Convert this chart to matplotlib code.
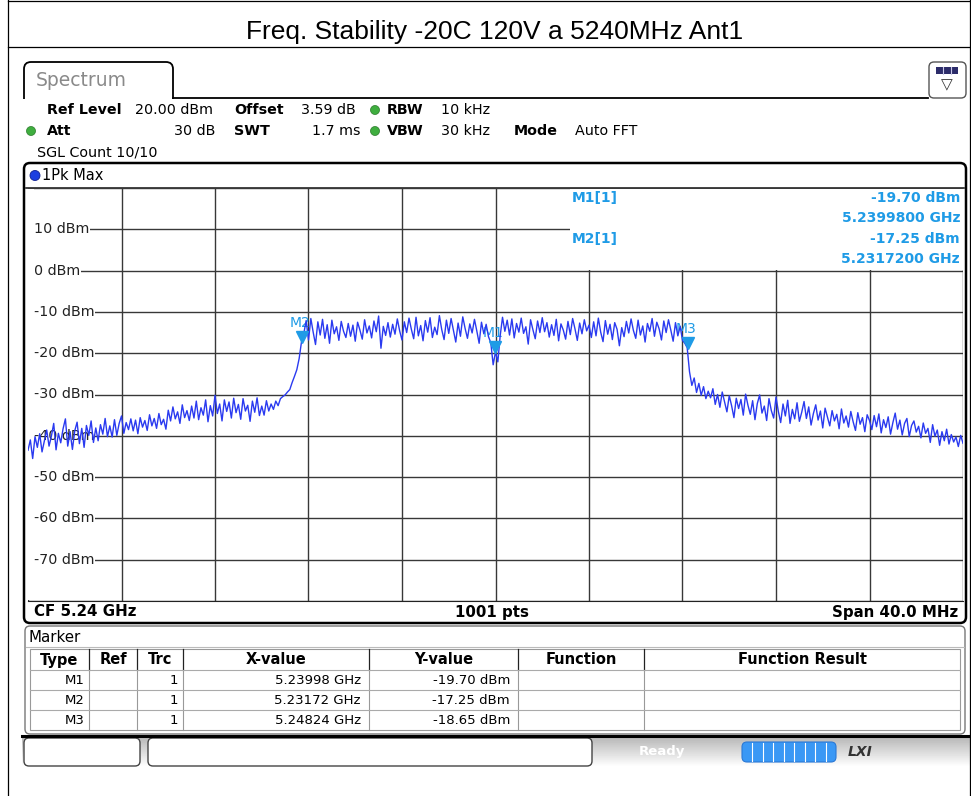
import numpy as np
import matplotlib
matplotlib.use('Agg')
import matplotlib.pyplot as plt
from matplotlib.patches import FancyBboxPatch, Rectangle, Circle
from matplotlib.transforms import offset_copy, blended_transform_factory

W, H = 971, 796

title = 'Freq. Stability -20C 120V a 5240MHz Ant1'

# trace levels in dBm, 0.1 MHz steps from 5.220 GHz to 5.260 GHz
left_skirt = [
    -43.5, -41.0, -45.5, -40.2, -42.8, -39.5, -43.9, -41.2, -38.6, -42.5,
    -40.1, -37.0, -43.4, -39.4, -41.7, -38.3, -35.9, -42.5, -39.0, -43.3,
    -38.8, -36.7, -41.9, -38.2, -42.8, -37.5, -39.9, -36.4, -41.6, -38.1,
    -41.2, -37.3, -39.6, -35.8, -40.2, -37.6, -40.3, -36.1, -39.9, -37.0,
    -35.2, -39.4, -36.8, -38.5, -35.9, -38.8, -36.2, -39.5, -35.6, -37.9,
    -36.3, -38.7, -34.9, -37.6, -35.8, -38.2, -34.6, -37.3, -36.0, -38.4,
    -33.8, -36.4, -33.0, -35.9, -34.2, -37.0, -32.5, -35.6, -33.9, -36.3,
    -32.8, -35.7, -31.6, -36.1, -33.2, -35.0, -31.3, -36.6, -32.7, -35.2,
    -30.2, -34.6, -32.3, -36.4, -31.3, -34.1, -31.8, -35.7, -30.9, -34.4,
    -32.4, -36.0, -31.0, -34.0, -32.6, -36.5, -31.6, -34.3, -30.8, -35.1,
    -32.8, -35.0, -31.5, -34.0, -32.3, -33.6, -31.6, -32.7, -31.0, -30.5,
    -30.1, -29.4, -28.8, -27.1, -25.6, -24.0, -21.3, -17.25,
]
in_band = [
    -15.2, -12.1, -16.8, -11.6, -14.9, -17.9, -12.4, -15.6, -11.8, -16.4,
    -13.1, -17.6, -12.0, -15.3, -13.6, -16.9, -12.3, -14.7, -16.2, -12.8,
    -15.9, -13.2, -17.1, -12.5, -14.4, -16.6, -11.9, -15.1, -13.4, -16.3,
    -12.2, -14.8, -11.0, -18.8, -13.5, -15.7, -12.6, -16.1, -13.0, -15.4,
    -11.7, -14.6, -16.8, -12.4, -15.0, -11.5, -14.2, -16.5, -11.3, -15.8,
    -13.3, -17.0, -12.1, -14.9, -11.4, -16.2, -13.7, -15.5, -10.9, -14.3,
    -16.7, -12.0, -15.2, -11.6, -14.5, -17.3, -12.7, -15.9, -11.2, -14.0,
    -16.4, -12.9, -15.1, -11.8, -14.6, -17.6, -12.5, -15.3, -13.0, -16.0,
    -17.5, -22.8, -19.7, -22.1, -15.8,
    -11.3, -14.7, -12.0, -15.6, -11.7, -16.3, -12.8, -14.9, -11.5, -15.2,
    -13.6, -17.8, -11.9, -14.3, -16.5, -12.2, -15.0, -11.4, -14.8, -12.6,
    -16.1, -13.1, -15.7, -11.8, -17.0, -12.9, -14.4, -16.6, -12.3, -15.5,
    -11.6, -14.1, -16.9, -12.7, -15.3, -11.9, -14.6, -13.2, -16.2, -12.4,
    -15.8, -11.5, -14.9, -17.2, -12.1, -15.4, -13.0, -16.7, -12.6, -14.2,
    -18.2, -13.8, -16.0, -12.3, -15.1, -11.7, -14.5, -16.4, -12.0, -15.6,
    -13.4, -17.3, -12.8, -14.7, -11.6, -15.9, -12.5, -14.1, -16.8, -12.2,
    -15.0, -11.9, -14.4, -17.1, -12.6, -15.8, -13.5, -16.9, -17.6, -18.65,
]
right_skirt = [
    -24.5, -27.8, -26.0, -29.5, -27.3, -30.2, -28.1, -31.0, -29.2, -30.8,
    -28.6, -32.4, -30.0, -33.1, -29.4, -31.8, -34.2, -30.3, -32.7, -35.6,
    -30.9, -33.4, -31.2, -35.0, -29.9, -32.6, -34.8, -31.5, -36.1, -32.2,
    -30.1, -34.5, -32.8, -36.3, -31.0, -33.9, -35.7, -30.6, -34.1, -36.8,
    -32.3, -35.2, -31.4, -37.0, -33.6, -35.9, -32.0, -36.5, -34.3, -31.7,
    -35.8, -33.0, -37.4, -34.6, -32.5, -36.2, -34.0, -38.1, -33.3, -35.5,
    -37.6, -33.9, -36.4, -34.8, -38.3, -33.5, -36.9, -35.2, -37.9, -34.1,
    -36.6, -38.7, -34.4, -37.2, -35.6, -39.0, -34.9, -36.3, -38.5, -35.1,
    -37.8, -34.7, -39.3, -36.1, -38.0, -35.4, -39.6, -36.8, -34.5, -38.4,
    -36.2, -39.8, -37.0, -35.8, -40.2, -37.5, -36.4, -39.1, -37.7, -40.5,
    -36.9, -39.4, -38.2, -41.6, -37.3, -40.1, -38.6, -42.3, -39.0, -41.2,
    -38.4, -42.0, -39.7, -41.5, -40.3, -42.6, -39.9, -41.8,
]
trace = np.array(left_skirt + in_band + right_skirt)
freq = np.linspace(5.22, 5.26, len(trace))

marker_names = ['M1', 'M2', 'M3']
marker_freq = [5.23998, 5.23172, 5.24824]
marker_level = [-19.70, -17.25, -18.65]

level_ticks = [10, 0, -10, -20, -30, -40, -50, -60, -70]

table_cols = ['Type', 'Ref', 'Trc', 'X-value', 'Y-value', 'Function', 'Function Result']

BLUE = '#2a3af0'
MK = '#1f9be6'


def box(x0, y0, x1, y1):
    return [x0 / W, 1 - y1 / H, (x1 - x0) / W, (y1 - y0) / H]


fig = plt.figure(figsize=(W / 100, H / 100), dpi=100)
ov = fig.add_axes([0, 0, 1, 1])
ov.axis('off')

# outer report table
ov.plot([8, 8], [0, H], color='black', lw=0.9)
ov.plot([969.5, 969.5], [0, H], color='black', lw=0.9)
ov.plot([8, W], [1, 1], color='black', lw=0.9)
ov.plot([8, W], [47, 47], color='black', lw=0.9)
ov.text(495, 32, title, ha='center', va='center', fontsize=19,
        family='Liberation Sans', color='black')

# spectrum tab
ov.add_patch(FancyBboxPatch((24, 62), 149, 50, boxstyle='round,pad=0,rounding_size=7',
                            fc='white', ec='black', lw=1.3))
ov.add_patch(Rectangle((20, 99), 157, 60, fc='white', ec='none'))
ov.plot([173, 928], [98, 98], color='black', lw=1.3)
ov.text(36, 81, 'Spectrum', ha='left', va='center', fontsize=13.5, color='#8a8a8a')
ov.add_patch(FancyBboxPatch((929, 62), 37, 36, boxstyle='round,pad=0,rounding_size=5',
                            fc='white', ec='#555555', lw=1.0))
ov.add_patch(Rectangle((936, 67), 22, 7, fc='#2c2c6a', ec='none'))
for xs in [943.3, 950.6]:
    ov.plot([xs, xs], [67, 74], color='#c8c8e8', lw=0.8)
ov.text(947, 85, '\u25bd', ha='center', va='center', fontsize=11, color='#333333')

# settings
fs = 10.3
ov.text(47, 110, 'Ref Level', fontsize=fs, weight='bold', va='center')
ov.text(135, 110, '20.00 dBm', fontsize=fs, va='center')
ov.text(234, 110, 'Offset', fontsize=fs, weight='bold', va='center')
ov.text(301, 110, '3.59 dB', fontsize=fs, va='center')
ov.text(387, 110, 'RBW', fontsize=fs, weight='bold', va='center')
ov.text(441, 110, '10 kHz', fontsize=fs, va='center')
ov.text(47, 131, 'Att', fontsize=fs, weight='bold', va='center')
ov.text(215, 131, '30 dB', fontsize=fs, va='center', ha='right')
ov.text(234, 131, 'SWT', fontsize=fs, weight='bold', va='center')
ov.text(361, 131, '1.7 ms', fontsize=fs, va='center', ha='right')
ov.text(387, 131, 'VBW', fontsize=fs, weight='bold', va='center')
ov.text(441, 131, '30 kHz', fontsize=fs, va='center')
ov.text(514, 131, 'Mode', fontsize=fs, weight='bold', va='center')
ov.text(575, 131, 'Auto FFT', fontsize=fs, va='center')
ov.text(37, 152, 'SGL Count 10/10', fontsize=fs, va='center')
for cx, cy in [(375, 110), (31, 131), (375, 131)]:
    ov.add_patch(Circle((cx, cy), 4.5, fc='#3fae3f', ec='#2a7a2a', lw=0.5))

# diagram frame
ov.add_patch(FancyBboxPatch((24, 163), 942, 460, boxstyle='round,pad=0,rounding_size=6',
                            fc='white', ec='black', lw=1.8))
ov.add_patch(Circle((35, 175.5), 5, fc='#1d3fe0', ec='#102090', lw=0.6))
ov.text(42, 175.5, '1Pk Max', fontsize=10.5, va='center')
ov.plot([26, 964], [187.5, 187.5], color='#222222', lw=1.2)
ov.text(34, 612, 'CF 5.24 GHz', fontsize=10.8, weight='bold', va='center')
ov.text(492, 612, '1001 pts', fontsize=10.8, weight='bold', va='center', ha='center')
ov.text(958, 612, 'Span 40.0 MHz', fontsize=10.8, weight='bold', va='center', ha='right')

# marker table
ov.add_patch(FancyBboxPatch((25, 626), 940, 108, boxstyle='round,pad=0,rounding_size=5',
                            fc='white', ec='#777777', lw=1.0))
ov.text(28, 637, 'Marker', fontsize=10.8, va='center')
ov.plot([26, 964], [647, 647], color='#bbbbbb', lw=0.8)
col_edges = [30, 89, 137, 183, 369, 518, 644, 960]
row_edges = [649, 670, 690, 710, 730]
ov.add_patch(Rectangle((30, 649), 930, 81, fc='none', ec='#999999', lw=0.8))
for xe in col_edges[1:-1]:
    ov.plot([xe, xe], [649, 670], color='#222222', lw=0.9)
    ov.plot([xe, xe], [670, 730], color='#999999', lw=0.8)
for ye in row_edges[1:-1]:
    ov.plot([30, 960], [ye, ye], color='#aaaaaa', lw=0.8)
for i, name in enumerate(table_cols):
    ov.text((col_edges[i] + col_edges[i + 1]) / 2, 660, name, fontsize=10.5,
            weight='bold', ha='center', va='center')
for r, (n, f, l) in enumerate(zip(marker_names, marker_freq, marker_level)):
    yc = (row_edges[r + 1] + row_edges[r + 2]) / 2
    ov.text(col_edges[1] - 4, yc, n, fontsize=9.5, ha='right', va='center')
    ov.text(col_edges[3] - 5, yc, '1', fontsize=9.5, ha='right', va='center')
    ov.text(col_edges[4] - 8, yc, f'{f:.5f} GHz', fontsize=9.5, ha='right', va='center')
    ov.text(col_edges[5] - 8, yc, f'{l:.2f} dBm', fontsize=9.5, ha='right', va='center')

# status bar
ov.plot([22, W], [735.5, 735.5], color='black', lw=2.2)
grad = np.linspace(0.72, 1.0, 30)[:, None] * np.ones((30, 2))
ov.imshow(grad, extent=(22, W, 767, 737), cmap='gray', vmin=0, vmax=1,
          aspect='auto', zorder=0.5)
ov.add_patch(FancyBboxPatch((24, 738), 116, 28, boxstyle='round,pad=0,rounding_size=5',
                            fc='white', ec='#444444', lw=1.0, zorder=1))
ov.add_patch(FancyBboxPatch((148, 738), 444, 28, boxstyle='round,pad=0,rounding_size=5',
                            fc='white', ec='#444444', lw=1.0, zorder=1))
ov.text(662, 752, 'Ready', fontsize=9.5, weight='bold', color='white', ha='center',
        va='center', zorder=2)
ov.add_patch(FancyBboxPatch((742, 742), 94, 20, boxstyle='round,pad=0,rounding_size=5',
                            fc='#3a98f5', ec='#2a78d5', lw=0.8, zorder=2))
for k in range(1, 9):
    xs = 742 + k * 94 / 9
    ov.plot([xs, xs], [743, 761], color='white', lw=0.8, zorder=3)
ov.text(860, 752, 'LXI', fontsize=10, weight='bold', style='italic', color='#333333',
        ha='center', va='center', zorder=2)
ov.set_xlim(0, W)
ov.set_ylim(H, 0)

# spectrum diagram
ax = fig.add_axes(box(28, 188, 963, 601))
ax.set_xlim(5.22, 5.26)
ax.set_ylim(-80, 20)
ax.set_xticks(np.linspace(5.22, 5.26, 11))
ax.set_yticks(np.arange(-80, 21, 10))
ax.tick_params(length=0, labelbottom=False, labelleft=False)
ax.grid(True, color='#383838', lw=1.0)
ax.set_axisbelow(True)
for s in ax.spines.values():
    s.set_visible(False)
ax.spines['bottom'].set_visible(True)
ax.spines['bottom'].set_color('#222222')

P = ov.transData
# blank strip at the left edge so the level lines start after their labels
ax.add_patch(Rectangle((27, 189), 7, 411, transform=P, fc='white', ec='none',
                       zorder=1.5, clip_on=False))
lab_tr = blended_transform_factory(ax.transAxes, ax.transData)
for v in level_ticks:
    ax.text(6 / 935, v, f'{v} dBm', transform=lab_tr, fontsize=10.3, color='#222222',
            ha='left', va='center', zorder=2,
            bbox=dict(fc='white', ec='none', pad=0.5))

ax.plot(freq, trace, color=BLUE, lw=1.0, zorder=3)

ax.add_patch(Rectangle((570, 188.5), 393, 81, transform=P, fc='white', ec='none',
                       zorder=4, clip_on=False))
info = [(marker_names[0], marker_freq[0], marker_level[0], 198),
        (marker_names[1], marker_freq[1], marker_level[1], 239)]
for n, f, l, yy in info:
    ax.text(572, yy, f'{n}[1]', transform=P, fontsize=10, weight='bold', color=MK,
            va='center', zorder=5)
    ax.text(960, yy, f'{l:.2f} dBm', transform=P, fontsize=10, weight='bold', color=MK,
            va='center', ha='right', zorder=5)
    ax.text(960, yy + 20, f'{f:.7f} GHz', transform=P, fontsize=10, weight='bold',
            color=MK, va='center', ha='right', zorder=5)

tri_tr = offset_copy(ax.transData, fig=fig, x=0, y=5, units='dots')
ax.plot(marker_freq, marker_level, 'v', color=MK, ms=8, transform=tri_tr, zorder=6)
lab_off = offset_copy(ax.transData, fig=fig, x=-2, y=19, units='dots')
for n, f, l in zip(marker_names, marker_freq, marker_level):
    ax.text(f, l, n, transform=lab_off, fontsize=10, color=MK, ha='center',
            va='center', zorder=2.5)

fig.savefig('out.png', dpi=100)
